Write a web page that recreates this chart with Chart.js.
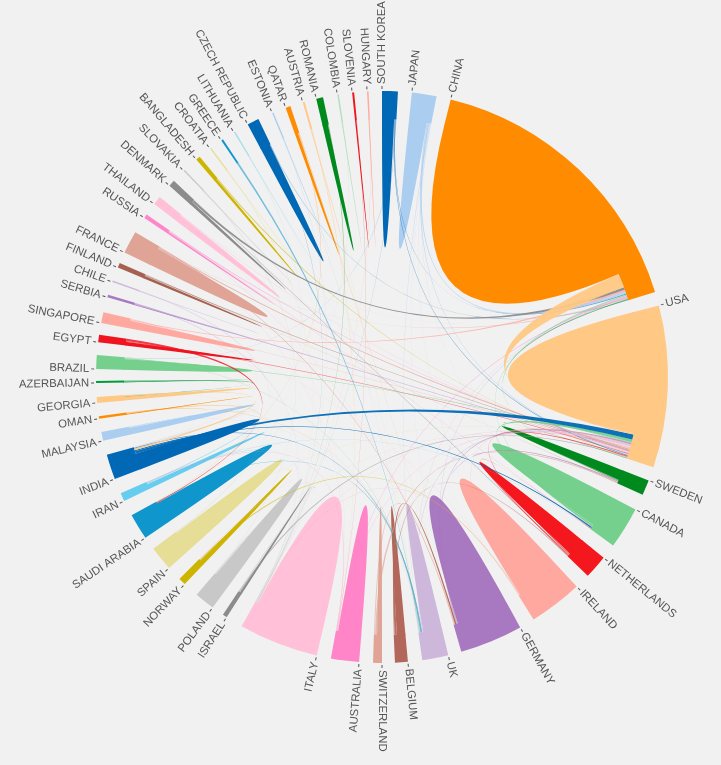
<!DOCTYPE html>
<html>
<head>
<meta charset="utf-8">
<title>Chord diagram</title>
<script src="https://cdn.jsdelivr.net/npm/chart.js@4"></script>
<style>
html, body {margin: 0; padding: 0; background: #f1f1f1;}
canvas {display: block;}
</style>
</head>
<body>
<canvas id="chord" width="721" height="765"></canvas>
<script>
const countries = ['CHINA', 'USA', 'SWEDEN', 'CANADA', 'NETHERLANDS', 'IRELAND', 'GERMANY', 'UK',
    'BELGIUM', 'SWITZERLAND', 'AUSTRALIA', 'ITALY', 'ISRAEL', 'POLAND', 'NORWAY', 'SPAIN',
    'SAUDI ARABIA', 'IRAN', 'INDIA', 'MALAYSIA', 'OMAN', 'GEORGIA', 'AZERBAIJAN', 'BRAZIL',
    'EGYPT', 'SINGAPORE', 'SERBIA', 'CHILE', 'FINLAND', 'FRANCE', 'RUSSIA', 'THAILAND',
    'DENMARK', 'SLOVAKIA', 'BANGLADESH', 'CROATIA', 'GREECE', 'LITHUANIA', 'CZECH REPUBLIC', 'ESTONIA',
    'QATAR', 'AUSTRIA', 'ROMANIA', 'COLOMBIA', 'SLOVENIA', 'HUNGARY', 'SOUTH KOREA', 'JAPAN'];
const totals = [588, 329, 31, 85, 48, 109, 128, 53,
    26, 18, 57, 162, 9, 41, 15, 50,
    53, 17, 51, 18, 5, 12, 4, 28,
    15, 22, 5, 3, 10, 46, 8, 18,
    13, 3, 9, 3, 4, 3, 24, 3,
    10, 4, 14, 3, 4, 3, 32, 50];
// space left after each country's arc
const gaps = [28, 28, 33, 31, 31, 31, 27, 29,
    26, 28, 29, 35, 25, 32, 30, 27,
    32, 31, 29, 27, 27, 28, 24, 26,
    24, 31, 27, 28, 23, 34, 26, 30,
    28, 31, 26, 25, 26, 29, 30, 26,
    26, 24, 29, 27, 26, 27, 28, 29];
const domestic = [526, 271, 23, 74, 40, 105, 118, 42,
    19, 11, 52, 156, 5, 38, 11, 47,
    49, 11, 36, 15, 2, 8, 1, 24,
    8, 17, 2, 1, 6, 40, 4, 15,
    7, 1, 6, 1, 0, 1, 22, 1,
    7, 1, 12, 2, 3, 2, 27, 40];
const colors = ['#ff8c00', '#ffc885', '#008a1e', '#74d08c', '#f5171e', '#ffa8a0', '#a878c0', '#cdb8dc',
    '#b2675a', '#e0a496', '#ff85c8', '#ffc0d8', '#8c8c8c', '#c8c8c8', '#cdb400', '#e6de96',
    '#0f96cc', '#66cdee', '#0068b4', '#aacdf0', '#ff8c00', '#ffc885', '#009b3c', '#74d08c',
    '#f01420', '#ffa8a0', '#a878c0', '#cdb8dc', '#a5604f', '#e0a496', '#ff85c8', '#ffc0d8',
    '#8c8c8c', '#c8c8c8', '#cdb400', '#e6de96', '#0f96cc', '#a8dcee', '#0068b4', '#aacdf0',
    '#ff8c00', '#ffc885', '#008a1e', '#b0e0bc', '#f01420', '#ffa8a0', '#0068b4', '#aacdf0'];

// collaborations between two countries, same order in all four lists
const linkFrom = ['USA', 'INDIA', 'CANADA', 'BRAZIL', 'GERMANY', 'IRELAND', 'UK', 'ITALY',
    'AUSTRALIA', 'SPAIN', 'FRANCE', 'FINLAND', 'SERBIA', 'RUSSIA', 'THAILAND', 'SINGAPORE',
    'EGYPT', 'JAPAN', 'SOUTH KOREA', 'NETHERLANDS', 'BANGLADESH', 'ISRAEL', 'POLAND', 'SWEDEN',
    'DENMARK', 'SINGAPORE', 'JAPAN', 'SOUTH KOREA', 'CANADA', 'UK', 'AUSTRALIA', 'GERMANY',
    'THAILAND', 'FRANCE', 'SWEDEN', 'CZECH REPUBLIC',
    'DENMARK', 'GERMANY', 'BELGIUM', 'INDIA', 'IRAN', 'AZERBAIJAN', 'GEORGIA', 'EGYPT',
    'OMAN', 'AUSTRIA', 'FRANCE', 'INDIA', 'SAUDI ARABIA', 'BRAZIL', 'OMAN', 'JAPAN',
    'SOUTH KOREA', 'JAPAN', 'SWITZERLAND', 'FINLAND', 'NETHERLANDS', 'CROATIA', 'ESTONIA', 'LITHUANIA',
    'QATAR', 'ROMANIA', 'HUNGARY', 'COLOMBIA', 'SLOVENIA', 'SLOVAKIA', 'GREECE', 'CHILE',
    'MALAYSIA', 'IRAN', 'SPAIN', 'POLAND', 'NORWAY', 'ISRAEL', 'BELGIUM', 'SWITZERLAND',
    'SINGAPORE', 'RUSSIA', 'THAILAND', 'IRELAND', 'SERBIA', 'AUSTRALIA', 'ITALY', 'GEORGIA',
    'AUSTRIA', 'QATAR', 'JAPAN', 'JAPAN', 'SOUTH KOREA', 'ITALY', 'IRELAND', 'AUSTRALIA',
    'THAILAND', 'RUSSIA', 'MALAYSIA', 'ESTONIA', 'LITHUANIA', 'CZECH REPUBLIC', 'IRAN', 'SPAIN'];
const linkTo = ['CHINA', 'USA', 'USA', 'USA', 'USA', 'USA', 'USA', 'USA',
    'USA', 'USA', 'USA', 'USA', 'USA', 'USA', 'USA', 'USA',
    'USA', 'USA', 'USA', 'USA', 'USA', 'USA', 'USA', 'USA',
    'CHINA', 'CHINA', 'CHINA', 'CHINA', 'CHINA', 'CHINA', 'CHINA', 'CHINA',
    'CHINA', 'CHINA', 'CHINA', 'CHINA',
    'NETHERLANDS', 'SWEDEN', 'GERMANY', 'CANADA', 'ITALY', 'GEORGIA', 'INDIA', 'SAUDI ARABIA',
    'SAUDI ARABIA', 'AUSTRALIA', 'GERMANY', 'UK', 'UK', 'UK', 'UK', 'UK',
    'BRAZIL', 'CANADA', 'SWEDEN', 'SWEDEN', 'CANADA', 'ITALY', 'ITALY', 'SPAIN',
    'SAUDI ARABIA', 'ITALY', 'ITALY', 'SPAIN', 'AUSTRALIA', 'POLAND', 'UK', 'SPAIN',
    'INDIA', 'MALAYSIA', 'ITALY', 'ITALY', 'IRELAND', 'ITALY', 'NETHERLANDS', 'GERMANY',
    'INDIA', 'GERMANY', 'AUSTRALIA', 'ITALY', 'ITALY', 'IRAN', 'NORWAY', 'ITALY',
    'UK', 'GERMANY', 'GERMANY', 'IRELAND', 'ITALY', 'SINGAPORE', 'SINGAPORE', 'FRANCE',
    'IRELAND', 'CANADA', 'UK', 'UK', 'GERMANY', 'ITALY', 'CANADA', 'BRAZIL'];
const linkFromWidth = [3, 10, 8, 3, 3, 3, 3, 3,
    2, 2, 4, 2, 2, 2, 2, 2,
    2, 3, 2, 3, 2, 2, 1, 2,
    5, 3, 4, 2, 3, 2, 2, 2,
    1, 2, 1, 1,
    1, 3, 4, 4, 2, 2, 3, 4,
    1, 2, 3, 3, 2, 2, 1, 2,
    1, 1, 3, 1, 3, 1, 1, 1,
    1, 1, 1, 1, 1, 1, 2, 1,
    2, 2, 2, 3, 2, 1, 2, 2,
    2, 1, 1, 2, 1, 2, 3, 1,
    1, 1, 1, 1, 1, 1, 1, 1,
    1, 1, 1, 1, 1, 1, 1, 1];
const linkToWidth = [28, 11, 6, 2, 3, 2, 3, 2,
    2, 1, 3, 2, 1, 1, 1, 2,
    2, 2, 2, 2, 1, 1, 1, 1,
    5, 4, 4, 2, 2, 1, 2, 1,
    1, 2, 2, 1,
    2, 3, 8, 5, 1, 2, 6, 3,
    1, 1, 4, 2, 3, 2, 1, 1,
    1, 2, 3, 1, 2, 1, 1, 1,
    1, 1, 1, 1, 1, 1, 1, 1,
    2, 1, 1, 1, 1, 1, 2, 1,
    1, 1, 1, 1, 1, 1, 1, 1,
    1, 1, 1, 1, 1, 1, 1, 1,
    1, 1, 1, 1, 1, 1, 1, 1];

// the doughnut gets one slice per country plus a see-through spacer behind it
const sliceValues = [], sliceColors = [];
totals.forEach((value, i) => {
    sliceValues.push(value, gaps[i]);
    sliceColors.push(colors[i], 'rgba(0,0,0,0)');
});

function withAlpha(hex, alpha) {
    const n = parseInt(hex.slice(1), 16);
    return `rgba(${n >> 16}, ${(n >> 8) & 255}, ${n & 255}, ${alpha})`;
}

// hands every link its stretch of the arc, after the country's own share
function buildSlots(arcs) {
    const used = countries.map(() => 0);
    linkFrom.forEach((name, i) => {
        used[countries.indexOf(name)] += linkFromWidth[i];
        used[countries.indexOf(linkTo[i])] += linkToWidth[i];
    });
    const cursor = countries.map((_, i) => arcs[i * 2].startAngle +
        (arcs[i * 2].endAngle - arcs[i * 2].startAngle) * domestic[i] / totals[i]);
    const rest = countries.map((_, i) => arcs[i * 2].endAngle - cursor[i]);

    const take = (g, width) => {
        const start = cursor[g];
        cursor[g] += rest[g] * width / used[g];
        return [start, cursor[g]];
    };
    return linkFrom.map((name, i) => {
        const from = countries.indexOf(name), to = countries.indexOf(linkTo[i]);
        return {from: from, a: take(from, linkFromWidth[i]), b: take(to, linkToWidth[i]),
                width: Math.max(linkFromWidth[i], linkToWidth[i])};
    });
}

function ribbon(ctx, x, y, r, a, b, fill) {
    ctx.beginPath();
    ctx.moveTo(x + r * Math.cos(a[0]), y + r * Math.sin(a[0]));
    ctx.arc(x, y, r, a[0], a[1]);
    ctx.quadraticCurveTo(x, y, x + r * Math.cos(b[0]), y + r * Math.sin(b[0]));
    ctx.arc(x, y, r, b[0], b[1]);
    ctx.quadraticCurveTo(x, y, x + r * Math.cos(a[0]), y + r * Math.sin(a[0]));
    ctx.closePath();
    ctx.fillStyle = fill;
    ctx.fill();
}

const chordPlugin = {
    id: 'chord',
    afterDatasetsDraw(chart) {
        const ctx = chart.ctx,
              arcs = chart.getDatasetMeta(0).data,
              x = arcs[0].x, y = arcs[0].y,
              inner = arcs[0].innerRadius, outer = arcs[0].outerRadius;

        ctx.save();
        countries.forEach((_, i) => {
            if (!domestic[i]) return;
            const a0 = arcs[i * 2].startAngle,
                  a1 = a0 + (arcs[i * 2].endAngle - a0) * domestic[i] / totals[i];
            // a little into the ring so no seam shows
            ribbon(ctx, x, y, inner + 1, [a0, a1], [a0, a1], colors[i]);
        });

        const slots = buildSlots(arcs).sort((p, q) => p.width - q.width);
        slots.forEach(s => {
            const alpha = Math.min(0.95, 0.3 + s.width * 0.13);
            ribbon(ctx, x, y, inner, s.a, s.b, withAlpha(colors[s.from], alpha));
        });

        // ticks and names sit at the start of each country's arc
        ctx.font = '11.4px "Liberation Sans", Arial, sans-serif';
        ctx.textBaseline = 'middle';
        countries.forEach((name, i) => {
            const angle = arcs[i * 2].startAngle,
                  flip = Math.cos(angle) < -0.001;
            ctx.save();
            ctx.translate(x, y);
            ctx.rotate(angle);
            ctx.strokeStyle = '#555';
            ctx.lineWidth = 1;
            ctx.beginPath();
            ctx.moveTo(outer + 2, 0);
            ctx.lineTo(outer + 5, 0);
            ctx.stroke();
            ctx.fillStyle = '#555';
            if (flip) {
                ctx.rotate(Math.PI);
                ctx.textAlign = 'right';
                ctx.fillText(name, -(outer + 7), 0);
            } else {
                ctx.textAlign = 'left';
                ctx.fillText(name, outer + 7, 0);
            }
            ctx.restore();
        });
        ctx.restore();
    }
};

new Chart(document.getElementById('chord').getContext('2d'), {
    type: 'doughnut',
    data: {
        labels: sliceValues.map((_, i) => i % 2 ? '' : countries[i / 2]),
        datasets: [{data: sliceValues, backgroundColor: sliceColors, borderWidth: 0, hoverOffset: 0}]
    },
    options: {
        responsive: false,
        animation: false,
        rotation: 13.9,
        radius: 286,
        cutout: '90.2%',
        layout: {padding: {left: 43, bottom: 11}},
        plugins: {legend: {display: false}, tooltip: {enabled: false}}
    },
    plugins: [chordPlugin]
});
</script>
</body>
</html>
